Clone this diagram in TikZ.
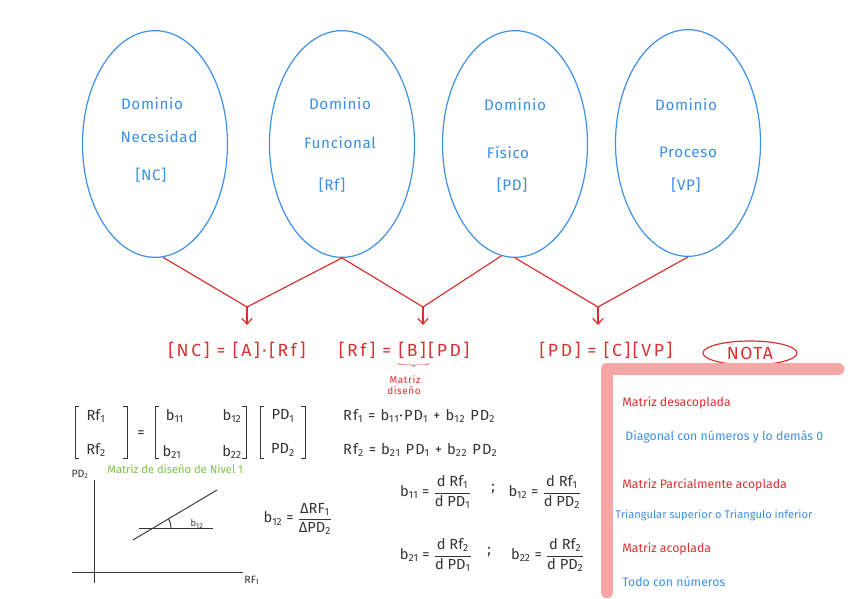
\documentclass[tikz,border=0pt]{standalone}
\usepackage{fontspec}
\setmainfont{Fira Sans}
\usepackage{amsmath}
\usetikzlibrary{shapes,positioning,arrows.meta,decorations.pathreplacing}
\tikzset{>={Straight Barb[length=5pt,width=9pt]}}
\definecolor{penBlue}{HTML}{3B8FE6}
\definecolor{penRed}{HTML}{D9302F}
\definecolor{penGreen}{HTML}{7CC242}
\definecolor{penGray}{HTML}{333333}
\definecolor{notePink}{HTML}{F9A6A6}
\newcommand{\sbs}[1]{\textsubscript{#1}}
\tikzset{
  dominio/.style={ellipse, draw=penBlue, line width=1pt, minimum width=4.35cm, minimum height=6.8cm, inner sep=0pt},
  domtext/.style={penBlue, font=\fontsize{13}{15}\selectfont\addfontfeature{LetterSpace=4}},
  eqtext/.style={penRed, font=\fontsize{15}{17}\selectfont\addfontfeature{LetterSpace=15}},
  notetext/.style={anchor=west, inner sep=1pt, font=\fontsize{10.5}{12}\selectfont},
  mattext/.style={penGray, font=\fontsize{12.5}{14}\selectfont}
}

\begin{document}
\begin{tikzpicture}[x=0.03cm,y=-0.03cm]
\useasboundingbox (0,0) rectangle (848,599);
% dominios
\node[dominio] (nc) at (155,144) {};
\node[dominio] (rf) at (342,144) {};
\node[dominio] (pd) at (515,144) {};
\node[dominio] (vp) at (688,143) {};
\node[domtext] (nc1) at (152,104) {Dominio};
\node[domtext] (nc2) at (159,137) {Necesidad};
\node[domtext] (nc3) at (151,175) {[NC]};
\node[domtext] (rf1) at (340,104) {Dominio};
\node[domtext] (rf2) at (340,143) {Funcional};
\node[domtext] (rf3) at (332,185) {[Rf]};
\node[domtext] (pd1) at (515,105) {Dominio};
\node[domtext] (pd2) at (508,152) {Físico};
\node[domtext] (pd3) at (512,185) {[PD]};
\node[domtext] (vp1) at (686,105) {Dominio};
\node[domtext] (vp2) at (688,152) {Proceso};
\node[domtext] (vp3) at (686,185) {[VP]};
% uniones
\coordinate (j1) at (247,307);
\coordinate (j2) at (423,307);
\coordinate (j3) at (598,307);
\coordinate (a1) at (247,325);
\coordinate (a2) at (423,325);
\coordinate (a3) at (598,325);
\draw[penRed, line width=1pt] (nc.-86) -- (j1) -- (rf.south);
\draw[penRed, line width=1pt] (rf.south) -- (j2) -- (pd.-97);
\draw[penRed, line width=1pt] (pd.south) -- (j3) -- (vp.south);
\draw[->, penRed, line width=1pt] (j1) -- (a1);
\draw[->, penRed, line width=1pt] (j2) -- (a2);
\draw[->, penRed, line width=1pt] (j3) -- (a3);
% ecuaciones
\node[eqtext] (eqa) at (237,350) {[NC] = [A]·[Rf]};
\node[eqtext] (eqb) at (404,350) {[Rf] = [B][PD]};
\node[eqtext] (eqc) at (606,350) {[PD] = [C][VP]};
\draw[penRed, decorate, decoration={brace, mirror, amplitude=3pt}] (398,363) -- (429,363);
\node[penRed, font=\fontsize{8.5}{9}\selectfont\addfontfeature{LetterSpace=6}] (md1) at (405,380) {Matriz};
\node[penRed, font=\fontsize{8.5}{9}\selectfont\addfontfeature{LetterSpace=6}] (md2) at (404,391) {diseño};
\node[ellipse, draw=penRed, line width=1pt, minimum width=2.82cm, minimum height=0.72cm, inner sep=0pt, penRed, font=\fontsize{15}{17}\selectfont\addfontfeature{LetterSpace=8}] (nota) at (750,353) {NOTA};
% nota
\draw[notePink, line width=11pt, line cap=round, line join=round] (607,592) -- (607,369) -- (838,369);
\node[notetext, penRed] (m1) at (621,403) {Matriz desacoplada};
\node[notetext, penBlue] (d1) at (624,437) {Diagonal con números y lo demás 0};
\node[notetext, penRed] (m2) at (621,485) {Matriz Parcialmente acoplada};
\node[notetext, penBlue, font=\fontsize{9.5}{11}\selectfont] (d2) at (614,515) {Triangular superior o Triangulo inferior};
\node[notetext, penRed] (m3) at (621,549) {Matriz acoplada};
\node[notetext, penBlue] (d3) at (621,582) {Todo con números};
% matrices
\node[mattext] (v1) at (96,416) {Rf\sbs1};
\node[mattext] (v2) at (96,450) {Rf\sbs2};
\draw[penGray, thick] (79,406) -- (75,406) -- (75,458) -- (79,458);
\draw[penGray, thick] (123,406) -- (127,406) -- (127,458) -- (123,458);
\node[mattext] (eq) at (141,434) {=};
\node[mattext] (b11) at (175,416) {b\sbs{11}};
\node[mattext] (b12) at (232,416) {b\sbs{12}};
\node[mattext] (b21) at (172,452) {b\sbs{21}};
\node[mattext] (b22) at (232,452) {b\sbs{22}};
\draw[penGray, thick] (159,406) -- (155,406) -- (155,458) -- (159,458);
\draw[penGray, thick] (242,406) -- (246,406) -- (246,458) -- (242,458);
\node[mattext] (p1) at (283,416) {PD\sbs1};
\node[mattext] (p2) at (283,450) {PD\sbs2};
\draw[penGray, thick] (264,406) -- (260,406) -- (260,458) -- (264,458);
\draw[penGray, thick] (301,406) -- (305,406) -- (305,458) -- (301,458);
\node[mattext, anchor=west, font=\fontsize{12.5}{14}\selectfont\addfontfeature{LetterSpace=8}] (s1) at (339,416) {Rf\sbs1 = b\sbs{11}·PD\sbs1 + b\sbs{12} PD\sbs2};
\node[mattext, anchor=west, font=\fontsize{12.5}{14}\selectfont\addfontfeature{LetterSpace=8}] (s2) at (339,450) {Rf\sbs2 = b\sbs{21} PD\sbs1 + b\sbs{22} PD\sbs2};
% grafica
\draw[penGray, thick] (94,480) -- (94,583);
\draw[penGray, thick] (72,572) -- (243,572);
\node[penGray, font=\fontsize{9}{10}\selectfont] (ejey) at (80,474) {PD\sbs2};
\node[penGray, font=\fontsize{9}{10}\selectfont] (ejex) at (252,580) {RF\sbs1};
\node[penGreen, anchor=west, inner sep=1pt, font=\fontsize{9.5}{11}\selectfont] (tit) at (106,469) {Matriz de diseño de Nivel 1};
\draw[penGray, thick] (133,540) -- (217,490);
\draw[penGray, thick] (139,528) -- (213,528);
\draw[penGray, thick] (171,528) to[bend right=15] (168.5,518.8);
\node[penGray, font=\fontsize{8}{9}\selectfont] (ang) at (197,524) {b\sbs{12}};
\node[mattext] (pend) at (298,519) {b\sbs{12} = $\dfrac{\text{ΔRF\sbs1}}{\text{ΔPD\sbs2}}$};
% derivadas
\node[mattext] (d11) at (436,492) {b\sbs{11} = $\dfrac{\text{d Rf\sbs1}}{\text{d PD\sbs1}}$};
\node[mattext] (sc1) at (493,489) {;};
\node[mattext] (d12) at (545,492) {b\sbs{12} = $\dfrac{\text{d Rf\sbs1}}{\text{d PD\sbs2}}$};
\node[mattext] (d21) at (436,555) {b\sbs{21} = $\dfrac{\text{d Rf\sbs2}}{\text{d PD\sbs1}}$};
\node[mattext] (sc2) at (489,552) {;};
\node[mattext] (d22) at (548,555) {b\sbs{22} = $\dfrac{\text{d Rf\sbs2}}{\text{d PD\sbs2}}$};
\end{tikzpicture}
\end{document}
